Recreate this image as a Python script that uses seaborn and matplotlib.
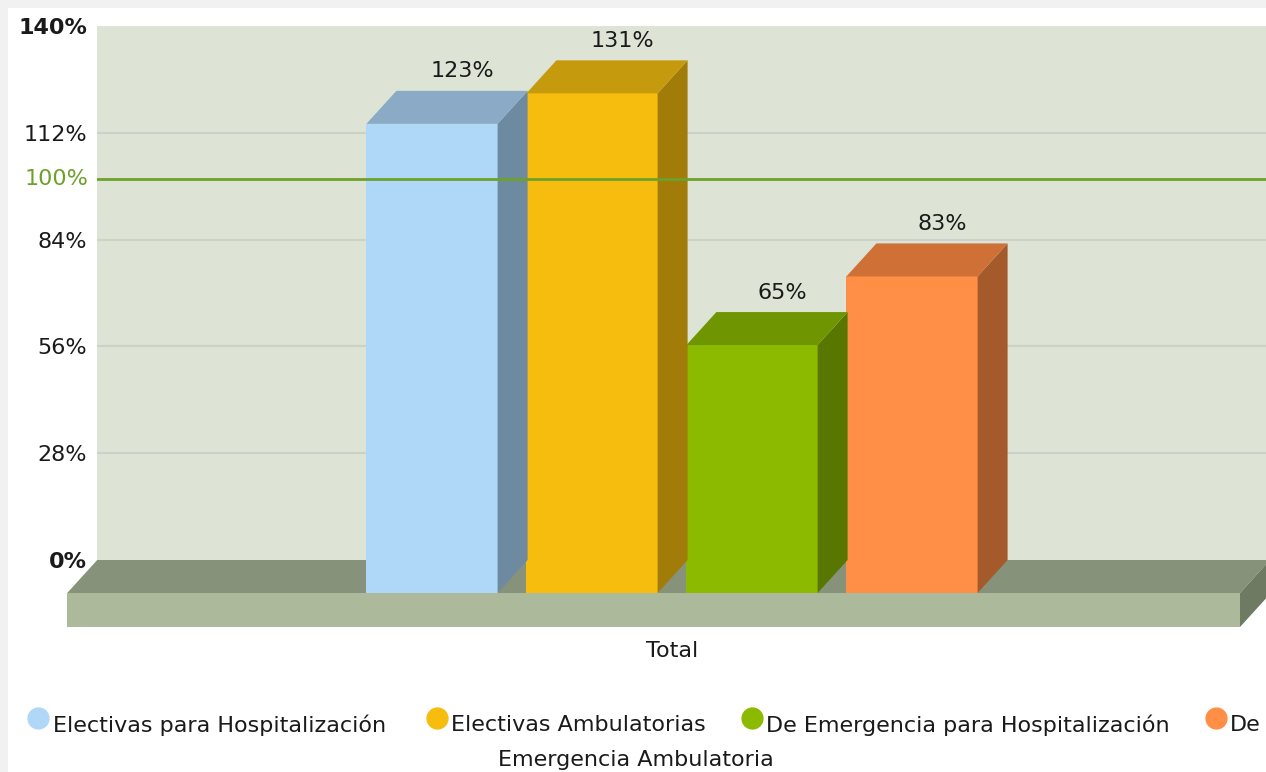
import pandas as pd
import seaborn as sns
import matplotlib.pyplot as plt
from matplotlib.patches import Polygon, Rectangle
from matplotlib.lines import Line2D

# data
categories = ["Total"]
series = ["Electivas para Hospitalización", "Electivas Ambulatorias",
          "De Emergencia para Hospitalización", "De Emergencia Ambulatoria"]
values = [123, 131, 65, 83]
y_ticks = [0, 28, 56, 84, 112, 140]
target = 100

front_colors = ["#afd8f8", "#f6bd0f", "#8bba00", "#ff8e46"]
top_colors = ["#8aaac5", "#c69a0d", "#6f9500", "#cf7137"]
side_colors = ["#6e8aa1", "#a27c08", "#587700", "#a55a2b"]

df = pd.DataFrame({"cat": categories * len(series), "serie": series, "valor": values})

sns.set_theme(style="white")
plt.rcParams['font.family'] = ['DejaVu Sans']
FS = 16
TXT = "#1a1a1a"

W, H = 1266, 772
fig = plt.figure(figsize=(W / 100, H / 100), dpi=100)
fig.patch.set_facecolor("#f1f1f1")
fig.add_artist(Rectangle((8 / W, 0), 1, 1 - 8 / H, transform=fig.transFigure,
                         facecolor="white", edgecolor="none", zorder=-10))

# axes = back wall of the 3d plot (pixels 97..1266 x 26..560)
ax = fig.add_axes([97 / W, (H - 560) / H, (W - 97) / W, 534 / H])
ax.set_facecolor("#dde3d5")

sns.barplot(data=df, x="cat", y="valor", hue="serie", palette=front_colors,
            gap=0.18, width=0.8, saturation=1, legend=False, ax=ax, zorder=3)

ax.set_xlim(-0.71875, 0.7425)
ax.set_ylim(0, 140)

px_y = 534 / 140          # pixels per percent
DX = 30 / 800             # depth offset in x (data units)
DY = 33 / px_y            # depth offset in y (percent units)
FLOOR = 34 / px_y         # floor thickness

# grid lines behind the bars
for t in y_ticks[1:-1]:
    ax.axhline(t, color="#cdd0cb", lw=1.5, zorder=1)

# floor slab
x_front_l, x_front_r = -0.756, 0.71
ax.add_patch(Polygon([(x_front_l, -DY), (x_front_r, -DY), (x_front_r + DX, 0), (x_front_l + DX, 0)],
                     closed=True, facecolor="#87927a", edgecolor="none", clip_on=False, zorder=2))
ax.add_patch(Polygon([(x_front_l, -DY), (x_front_r, -DY), (x_front_r, -DY - FLOOR), (x_front_l, -DY - FLOOR)],
                     closed=True, facecolor="#adb99b", edgecolor="none", clip_on=False, zorder=2))
ax.add_patch(Polygon([(x_front_r, -DY), (x_front_r + DX, 0), (x_front_r + DX, -FLOOR), (x_front_r, -DY - FLOOR)],
                     closed=True, facecolor="#6f7a62", edgecolor="none", clip_on=False, zorder=2))

# turn the flat bars into boxes
for i, p in enumerate(ax.patches[:len(values)]):
    x0, w, v = p.get_x(), p.get_width(), p.get_height()
    p.set_y(-DY)
    p.set_clip_on(False)
    p.set_edgecolor("none")
    ax.add_patch(Polygon([(x0 + w, -DY), (x0 + w + DX, 0), (x0 + w + DX, v), (x0 + w, v - DY)],
                         closed=True, facecolor=side_colors[i], edgecolor="none", clip_on=False, zorder=3))
    ax.add_patch(Polygon([(x0, v - DY), (x0 + w, v - DY), (x0 + w + DX, v), (x0 + DX, v)],
                         closed=True, facecolor=top_colors[i], edgecolor="none", clip_on=False, zorder=3))
    ax.annotate(f"{values[i]}%", (x0 + w / 2 + DX, v), xytext=(0, 14), textcoords="offset points",
                ha="center", va="center", fontsize=FS, color=TXT, zorder=5)

# target line
ax.axhline(target, color="#6ea12a", lw=2, zorder=4)
ax.text(-0.0075, target, f"{target}%", transform=ax.get_yaxis_transform(), ha="right", va="center",
        fontsize=FS, color="#6ea12a")

ax.set_yticks(y_ticks)
ax.set_yticklabels([f"{t}%" for t in y_ticks], fontsize=FS, color=TXT)
for lab, t in zip(ax.get_yticklabels(), y_ticks):
    if t in (0, 140):
        lab.set_fontweight("bold")
ax.tick_params(axis="y", length=0, pad=7)
ax.tick_params(axis="x", length=0, pad=58, labelsize=FS, labelcolor=TXT)
ax.set_xlabel("")
ax.set_ylabel("")
sns.despine(ax=ax, left=True, bottom=True)

# legend drawn by hand (wraps like the original)
leg_y = 1 - 718 / H
for mx, tx, name, c in [(38, 53, series[0], front_colors[0]),
                        (437, 451, series[1], front_colors[1]),
                        (752, 766, series[2], front_colors[2]),
                        (1216, 1230, "De", front_colors[3])]:
    fig.add_artist(Line2D([mx / W], [leg_y], marker="o", markersize=15, color=c,
                          transform=fig.transFigure))
    fig.text(tx / W, 1 - 725 / H, name, ha="left", va="center", fontsize=FS, color=TXT)
fig.text(636 / W, 1 - 760 / H, "Emergencia Ambulatoria", ha="center", va="center",
         fontsize=FS, color=TXT)

fig.savefig("out.png", dpi=100, facecolor=fig.get_facecolor())
